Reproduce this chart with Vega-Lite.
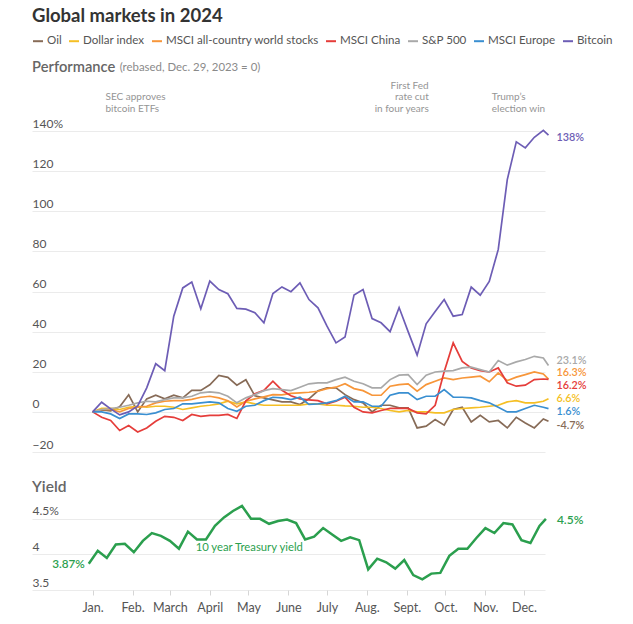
{
"$schema":"https://vega.github.io/schema/vega-lite/v6.json",
"background":"white",
"padding":{"left":32,"top":6,"right":0,"bottom":0},
"config":{"font":"Lato","view":{"stroke":null},"concat":{"spacing":28}},
"title":{"text":"Global markets in 2024","anchor":"start","fontSize":18.5,"fontWeight":"bold","color":"#333333","offset":10},
"datasets":{
"perf":[
{"d":"2024-01-01","s":"Oil","v":0},{"d":"2024-01-08","s":"Oil","v":1},{"d":"2024-01-15","s":"Oil","v":0.5},{"d":"2024-01-22","s":"Oil","v":2.5},{"d":"2024-01-29","s":"Oil","v":8.5},{"d":"2024-02-05","s":"Oil","v":0},{"d":"2024-02-12","s":"Oil","v":6.5},{"d":"2024-02-19","s":"Oil","v":8.3},{"d":"2024-02-26","s":"Oil","v":6.5},{"d":"2024-03-04","s":"Oil","v":8.3},{"d":"2024-03-11","s":"Oil","v":7},{"d":"2024-03-18","s":"Oil","v":10.7},{"d":"2024-03-25","s":"Oil","v":10.7},{"d":"2024-04-01","s":"Oil","v":13.5},{"d":"2024-04-08","s":"Oil","v":18.2},{"d":"2024-04-15","s":"Oil","v":17.2},{"d":"2024-04-22","s":"Oil","v":13.3},{"d":"2024-04-29","s":"Oil","v":16},{"d":"2024-05-06","s":"Oil","v":8},{"d":"2024-05-13","s":"Oil","v":7},{"d":"2024-05-20","s":"Oil","v":6},{"d":"2024-05-27","s":"Oil","v":5},{"d":"2024-06-03","s":"Oil","v":5},{"d":"2024-06-10","s":"Oil","v":3.7},{"d":"2024-06-17","s":"Oil","v":6.5},{"d":"2024-06-24","s":"Oil","v":10.5},{"d":"2024-07-01","s":"Oil","v":12},{"d":"2024-07-08","s":"Oil","v":12},{"d":"2024-07-15","s":"Oil","v":8.6},{"d":"2024-07-22","s":"Oil","v":6.1},{"d":"2024-07-29","s":"Oil","v":4.5},{"d":"2024-08-05","s":"Oil","v":0},{"d":"2024-08-12","s":"Oil","v":3.3},{"d":"2024-08-19","s":"Oil","v":3.3},{"d":"2024-08-26","s":"Oil","v":2},{"d":"2024-09-02","s":"Oil","v":2},{"d":"2024-09-09","s":"Oil","v":-8},{"d":"2024-09-16","s":"Oil","v":-7.1},{"d":"2024-09-23","s":"Oil","v":-3.8},{"d":"2024-09-30","s":"Oil","v":-6.6},{"d":"2024-10-07","s":"Oil","v":1.2},{"d":"2024-10-14","s":"Oil","v":2.3},{"d":"2024-10-21","s":"Oil","v":-5},{"d":"2024-10-28","s":"Oil","v":-1.7},{"d":"2024-11-04","s":"Oil","v":-5},{"d":"2024-11-11","s":"Oil","v":-4.3},{"d":"2024-11-18","s":"Oil","v":-8},{"d":"2024-11-25","s":"Oil","v":-2.7},{"d":"2024-12-02","s":"Oil","v":-5.5},{"d":"2024-12-09","s":"Oil","v":-8},{"d":"2024-12-16","s":"Oil","v":-3.5},{"d":"2024-12-20","s":"Oil","v":-4.7},
{"d":"2024-01-01","s":"Dollar index","v":0},{"d":"2024-01-08","s":"Dollar index","v":1.7},{"d":"2024-01-15","s":"Dollar index","v":1.7},{"d":"2024-01-22","s":"Dollar index","v":1.2},{"d":"2024-01-29","s":"Dollar index","v":2.3},{"d":"2024-02-05","s":"Dollar index","v":2.8},{"d":"2024-02-12","s":"Dollar index","v":2.3},{"d":"2024-02-19","s":"Dollar index","v":2.8},{"d":"2024-02-26","s":"Dollar index","v":2.8},{"d":"2024-03-04","s":"Dollar index","v":2.3},{"d":"2024-03-11","s":"Dollar index","v":1.2},{"d":"2024-03-18","s":"Dollar index","v":2},{"d":"2024-03-25","s":"Dollar index","v":2.8},{"d":"2024-04-01","s":"Dollar index","v":3.3},{"d":"2024-04-08","s":"Dollar index","v":4},{"d":"2024-04-15","s":"Dollar index","v":5.3},{"d":"2024-04-22","s":"Dollar index","v":4},{"d":"2024-04-29","s":"Dollar index","v":5},{"d":"2024-05-06","s":"Dollar index","v":4},{"d":"2024-05-13","s":"Dollar index","v":3.3},{"d":"2024-05-20","s":"Dollar index","v":3.3},{"d":"2024-05-27","s":"Dollar index","v":3.3},{"d":"2024-06-03","s":"Dollar index","v":3.3},{"d":"2024-06-10","s":"Dollar index","v":3.3},{"d":"2024-06-17","s":"Dollar index","v":4},{"d":"2024-06-24","s":"Dollar index","v":4},{"d":"2024-07-01","s":"Dollar index","v":3.3},{"d":"2024-07-08","s":"Dollar index","v":3.3},{"d":"2024-07-15","s":"Dollar index","v":3},{"d":"2024-07-22","s":"Dollar index","v":2.8},{"d":"2024-07-29","s":"Dollar index","v":2.3},{"d":"2024-08-05","s":"Dollar index","v":2.3},{"d":"2024-08-12","s":"Dollar index","v":1.7},{"d":"2024-08-19","s":"Dollar index","v":0.7},{"d":"2024-08-26","s":"Dollar index","v":0},{"d":"2024-09-02","s":"Dollar index","v":0.7},{"d":"2024-09-09","s":"Dollar index","v":0},{"d":"2024-09-16","s":"Dollar index","v":0},{"d":"2024-09-23","s":"Dollar index","v":-0.5},{"d":"2024-09-30","s":"Dollar index","v":-0.5},{"d":"2024-10-07","s":"Dollar index","v":1.2},{"d":"2024-10-14","s":"Dollar index","v":1.7},{"d":"2024-10-21","s":"Dollar index","v":2},{"d":"2024-10-28","s":"Dollar index","v":2.3},{"d":"2024-11-04","s":"Dollar index","v":2.8},{"d":"2024-11-11","s":"Dollar index","v":3.3},{"d":"2024-11-18","s":"Dollar index","v":5},{"d":"2024-11-25","s":"Dollar index","v":5.6},{"d":"2024-12-02","s":"Dollar index","v":4.5},{"d":"2024-12-09","s":"Dollar index","v":4.5},{"d":"2024-12-16","s":"Dollar index","v":5.3},{"d":"2024-12-20","s":"Dollar index","v":6.6},
{"d":"2024-01-01","s":"MSCI all-country world stocks","v":0},{"d":"2024-01-08","s":"MSCI all-country world stocks","v":1.2},{"d":"2024-01-15","s":"MSCI all-country world stocks","v":1.2},{"d":"2024-01-22","s":"MSCI all-country world stocks","v":0},{"d":"2024-01-29","s":"MSCI all-country world stocks","v":1.7},{"d":"2024-02-05","s":"MSCI all-country world stocks","v":2.3},{"d":"2024-02-12","s":"MSCI all-country world stocks","v":2.8},{"d":"2024-02-19","s":"MSCI all-country world stocks","v":4.5},{"d":"2024-02-26","s":"MSCI all-country world stocks","v":5.3},{"d":"2024-03-04","s":"MSCI all-country world stocks","v":5.6},{"d":"2024-03-11","s":"MSCI all-country world stocks","v":5.6},{"d":"2024-03-18","s":"MSCI all-country world stocks","v":6.2},{"d":"2024-03-25","s":"MSCI all-country world stocks","v":7.3},{"d":"2024-04-01","s":"MSCI all-country world stocks","v":7.8},{"d":"2024-04-08","s":"MSCI all-country world stocks","v":7},{"d":"2024-04-15","s":"MSCI all-country world stocks","v":5.6},{"d":"2024-04-22","s":"MSCI all-country world stocks","v":2.5},{"d":"2024-04-29","s":"MSCI all-country world stocks","v":5.3},{"d":"2024-05-06","s":"MSCI all-country world stocks","v":6.5},{"d":"2024-05-13","s":"MSCI all-country world stocks","v":7.5},{"d":"2024-05-20","s":"MSCI all-country world stocks","v":8.6},{"d":"2024-05-27","s":"MSCI all-country world stocks","v":8.5},{"d":"2024-06-03","s":"MSCI all-country world stocks","v":9.2},{"d":"2024-06-10","s":"MSCI all-country world stocks","v":9.5},{"d":"2024-06-17","s":"MSCI all-country world stocks","v":9.8},{"d":"2024-06-24","s":"MSCI all-country world stocks","v":10.3},{"d":"2024-07-01","s":"MSCI all-country world stocks","v":11.6},{"d":"2024-07-08","s":"MSCI all-country world stocks","v":12.3},{"d":"2024-07-15","s":"MSCI all-country world stocks","v":14},{"d":"2024-07-22","s":"MSCI all-country world stocks","v":11.6},{"d":"2024-07-29","s":"MSCI all-country world stocks","v":10.6},{"d":"2024-08-05","s":"MSCI all-country world stocks","v":8.3},{"d":"2024-08-12","s":"MSCI all-country world stocks","v":8.3},{"d":"2024-08-19","s":"MSCI all-country world stocks","v":12.8},{"d":"2024-08-26","s":"MSCI all-country world stocks","v":13.6},{"d":"2024-09-02","s":"MSCI all-country world stocks","v":14},{"d":"2024-09-09","s":"MSCI all-country world stocks","v":10.3},{"d":"2024-09-16","s":"MSCI all-country world stocks","v":13.6},{"d":"2024-09-23","s":"MSCI all-country world stocks","v":15.3},{"d":"2024-09-30","s":"MSCI all-country world stocks","v":16.9},{"d":"2024-10-07","s":"MSCI all-country world stocks","v":16.1},{"d":"2024-10-14","s":"MSCI all-country world stocks","v":16.9},{"d":"2024-10-21","s":"MSCI all-country world stocks","v":17.3},{"d":"2024-10-28","s":"MSCI all-country world stocks","v":17.8},{"d":"2024-11-04","s":"MSCI all-country world stocks","v":15},{"d":"2024-11-11","s":"MSCI all-country world stocks","v":19.4},{"d":"2024-11-18","s":"MSCI all-country world stocks","v":15.6},{"d":"2024-11-25","s":"MSCI all-country world stocks","v":17.3},{"d":"2024-12-02","s":"MSCI all-country world stocks","v":18.6},{"d":"2024-12-09","s":"MSCI all-country world stocks","v":19.9},{"d":"2024-12-16","s":"MSCI all-country world stocks","v":18.9},{"d":"2024-12-20","s":"MSCI all-country world stocks","v":16.3},
{"d":"2024-01-01","s":"MSCI China","v":0},{"d":"2024-01-08","s":"MSCI China","v":-2.7},{"d":"2024-01-15","s":"MSCI China","v":-4.3},{"d":"2024-01-22","s":"MSCI China","v":-9.3},{"d":"2024-01-29","s":"MSCI China","v":-6.8},{"d":"2024-02-05","s":"MSCI China","v":-10},{"d":"2024-02-12","s":"MSCI China","v":-8},{"d":"2024-02-19","s":"MSCI China","v":-4.7},{"d":"2024-02-26","s":"MSCI China","v":-2.2},{"d":"2024-03-04","s":"MSCI China","v":-2.7},{"d":"2024-03-11","s":"MSCI China","v":-4.3},{"d":"2024-03-18","s":"MSCI China","v":-1.3},{"d":"2024-03-25","s":"MSCI China","v":-2.2},{"d":"2024-04-01","s":"MSCI China","v":-1.7},{"d":"2024-04-08","s":"MSCI China","v":-1.7},{"d":"2024-04-15","s":"MSCI China","v":-1.3},{"d":"2024-04-22","s":"MSCI China","v":-3.3},{"d":"2024-04-29","s":"MSCI China","v":5.5},{"d":"2024-05-06","s":"MSCI China","v":9},{"d":"2024-05-13","s":"MSCI China","v":10.7},{"d":"2024-05-20","s":"MSCI China","v":15.3},{"d":"2024-05-27","s":"MSCI China","v":10.8},{"d":"2024-06-03","s":"MSCI China","v":8},{"d":"2024-06-10","s":"MSCI China","v":6.5},{"d":"2024-06-17","s":"MSCI China","v":6},{"d":"2024-06-24","s":"MSCI China","v":5.6},{"d":"2024-07-01","s":"MSCI China","v":4},{"d":"2024-07-08","s":"MSCI China","v":5.3},{"d":"2024-07-15","s":"MSCI China","v":7.3},{"d":"2024-07-22","s":"MSCI China","v":2.3},{"d":"2024-07-29","s":"MSCI China","v":0},{"d":"2024-08-05","s":"MSCI China","v":-0.5},{"d":"2024-08-12","s":"MSCI China","v":0.7},{"d":"2024-08-19","s":"MSCI China","v":1.7},{"d":"2024-08-26","s":"MSCI China","v":1.7},{"d":"2024-09-02","s":"MSCI China","v":1.7},{"d":"2024-09-09","s":"MSCI China","v":-0.5},{"d":"2024-09-16","s":"MSCI China","v":-1},{"d":"2024-09-23","s":"MSCI China","v":3.3},{"d":"2024-09-30","s":"MSCI China","v":20},{"d":"2024-10-07","s":"MSCI China","v":34.4},{"d":"2024-10-14","s":"MSCI China","v":25.2},{"d":"2024-10-21","s":"MSCI China","v":21.9},{"d":"2024-10-28","s":"MSCI China","v":20.6},{"d":"2024-11-04","s":"MSCI China","v":19.9},{"d":"2024-11-11","s":"MSCI China","v":21.9},{"d":"2024-11-18","s":"MSCI China","v":14.5},{"d":"2024-11-25","s":"MSCI China","v":12.8},{"d":"2024-12-02","s":"MSCI China","v":13.3},{"d":"2024-12-09","s":"MSCI China","v":16.1},{"d":"2024-12-16","s":"MSCI China","v":16.4},{"d":"2024-12-20","s":"MSCI China","v":16.2},
{"d":"2024-01-01","s":"S&P 500","v":0},{"d":"2024-01-08","s":"S&P 500","v":1.2},{"d":"2024-01-15","s":"S&P 500","v":1.7},{"d":"2024-01-22","s":"S&P 500","v":2.3},{"d":"2024-01-29","s":"S&P 500","v":3.3},{"d":"2024-02-05","s":"S&P 500","v":4.5},{"d":"2024-02-12","s":"S&P 500","v":5.3},{"d":"2024-02-19","s":"S&P 500","v":5},{"d":"2024-02-26","s":"S&P 500","v":6.1},{"d":"2024-03-04","s":"S&P 500","v":7},{"d":"2024-03-11","s":"S&P 500","v":7},{"d":"2024-03-18","s":"S&P 500","v":7.8},{"d":"2024-03-25","s":"S&P 500","v":9.5},{"d":"2024-04-01","s":"S&P 500","v":10},{"d":"2024-04-08","s":"S&P 500","v":9.5},{"d":"2024-04-15","s":"S&P 500","v":7.8},{"d":"2024-04-22","s":"S&P 500","v":4.5},{"d":"2024-04-29","s":"S&P 500","v":7},{"d":"2024-05-06","s":"S&P 500","v":8.6},{"d":"2024-05-13","s":"S&P 500","v":10.6},{"d":"2024-05-20","s":"S&P 500","v":11.6},{"d":"2024-05-27","s":"S&P 500","v":11.1},{"d":"2024-06-03","s":"S&P 500","v":10.6},{"d":"2024-06-10","s":"S&P 500","v":12.3},{"d":"2024-06-17","s":"S&P 500","v":14},{"d":"2024-06-24","s":"S&P 500","v":14.5},{"d":"2024-07-01","s":"S&P 500","v":14.5},{"d":"2024-07-08","s":"S&P 500","v":16.1},{"d":"2024-07-15","s":"S&P 500","v":17.3},{"d":"2024-07-22","s":"S&P 500","v":15.3},{"d":"2024-07-29","s":"S&P 500","v":14},{"d":"2024-08-05","s":"S&P 500","v":12},{"d":"2024-08-12","s":"S&P 500","v":12},{"d":"2024-08-19","s":"S&P 500","v":16.1},{"d":"2024-08-26","s":"S&P 500","v":18.3},{"d":"2024-09-02","s":"S&P 500","v":18.6},{"d":"2024-09-09","s":"S&P 500","v":13.6},{"d":"2024-09-16","s":"S&P 500","v":18.3},{"d":"2024-09-23","s":"S&P 500","v":19.9},{"d":"2024-09-30","s":"S&P 500","v":20.3},{"d":"2024-10-07","s":"S&P 500","v":20.6},{"d":"2024-10-14","s":"S&P 500","v":21.9},{"d":"2024-10-21","s":"S&P 500","v":22.3},{"d":"2024-10-28","s":"S&P 500","v":21.1},{"d":"2024-11-04","s":"S&P 500","v":19.9},{"d":"2024-11-11","s":"S&P 500","v":25.6},{"d":"2024-11-18","s":"S&P 500","v":23.3},{"d":"2024-11-25","s":"S&P 500","v":24.9},{"d":"2024-12-02","s":"S&P 500","v":26.1},{"d":"2024-12-09","s":"S&P 500","v":27.7},{"d":"2024-12-16","s":"S&P 500","v":26.9},{"d":"2024-12-20","s":"S&P 500","v":23.1},
{"d":"2024-01-01","s":"MSCI Europe","v":0},{"d":"2024-01-08","s":"MSCI Europe","v":0},{"d":"2024-01-15","s":"MSCI Europe","v":-1},{"d":"2024-01-22","s":"MSCI Europe","v":-3.3},{"d":"2024-01-29","s":"MSCI Europe","v":-1},{"d":"2024-02-05","s":"MSCI Europe","v":-1},{"d":"2024-02-12","s":"MSCI Europe","v":-1.3},{"d":"2024-02-19","s":"MSCI Europe","v":-0.5},{"d":"2024-02-26","s":"MSCI Europe","v":1.2},{"d":"2024-03-04","s":"MSCI Europe","v":1.7},{"d":"2024-03-11","s":"MSCI Europe","v":4},{"d":"2024-03-18","s":"MSCI Europe","v":4},{"d":"2024-03-25","s":"MSCI Europe","v":4.5},{"d":"2024-04-01","s":"MSCI Europe","v":5},{"d":"2024-04-08","s":"MSCI Europe","v":4.5},{"d":"2024-04-15","s":"MSCI Europe","v":1.7},{"d":"2024-04-22","s":"MSCI Europe","v":0.3},{"d":"2024-04-29","s":"MSCI Europe","v":2.8},{"d":"2024-05-06","s":"MSCI Europe","v":3.3},{"d":"2024-05-13","s":"MSCI Europe","v":5.6},{"d":"2024-05-20","s":"MSCI Europe","v":7.3},{"d":"2024-05-27","s":"MSCI Europe","v":7},{"d":"2024-06-03","s":"MSCI Europe","v":6.1},{"d":"2024-06-10","s":"MSCI Europe","v":7.3},{"d":"2024-06-17","s":"MSCI Europe","v":3.7},{"d":"2024-06-24","s":"MSCI Europe","v":4},{"d":"2024-07-01","s":"MSCI Europe","v":4.5},{"d":"2024-07-08","s":"MSCI Europe","v":5.6},{"d":"2024-07-15","s":"MSCI Europe","v":7.8},{"d":"2024-07-22","s":"MSCI Europe","v":5},{"d":"2024-07-29","s":"MSCI Europe","v":5},{"d":"2024-08-05","s":"MSCI Europe","v":2.8},{"d":"2024-08-12","s":"MSCI Europe","v":2.8},{"d":"2024-08-19","s":"MSCI Europe","v":8.3},{"d":"2024-08-26","s":"MSCI Europe","v":9.5},{"d":"2024-09-02","s":"MSCI Europe","v":9.5},{"d":"2024-09-09","s":"MSCI Europe","v":6.1},{"d":"2024-09-16","s":"MSCI Europe","v":7.8},{"d":"2024-09-23","s":"MSCI Europe","v":7.8},{"d":"2024-09-30","s":"MSCI Europe","v":11.1},{"d":"2024-10-07","s":"MSCI Europe","v":7.3},{"d":"2024-10-14","s":"MSCI Europe","v":7.3},{"d":"2024-10-21","s":"MSCI Europe","v":7},{"d":"2024-10-28","s":"MSCI Europe","v":5.6},{"d":"2024-11-04","s":"MSCI Europe","v":4.5},{"d":"2024-11-11","s":"MSCI Europe","v":2.3},{"d":"2024-11-18","s":"MSCI Europe","v":0},{"d":"2024-11-25","s":"MSCI Europe","v":0},{"d":"2024-12-02","s":"MSCI Europe","v":1.7},{"d":"2024-12-09","s":"MSCI Europe","v":3.3},{"d":"2024-12-16","s":"MSCI Europe","v":2.3},{"d":"2024-12-20","s":"MSCI Europe","v":1.6},
{"d":"2024-01-01","s":"Bitcoin","v":0},{"d":"2024-01-08","s":"Bitcoin","v":4.8},{"d":"2024-01-15","s":"Bitcoin","v":1.5},{"d":"2024-01-22","s":"Bitcoin","v":-1.5},{"d":"2024-01-29","s":"Bitcoin","v":0},{"d":"2024-02-05","s":"Bitcoin","v":3},{"d":"2024-02-12","s":"Bitcoin","v":12},{"d":"2024-02-19","s":"Bitcoin","v":24},{"d":"2024-02-26","s":"Bitcoin","v":20.5},{"d":"2024-03-04","s":"Bitcoin","v":47.7},{"d":"2024-03-11","s":"Bitcoin","v":61.8},{"d":"2024-03-18","s":"Bitcoin","v":64.7},{"d":"2024-03-25","s":"Bitcoin","v":51.4},{"d":"2024-04-01","s":"Bitcoin","v":65.2},{"d":"2024-04-08","s":"Bitcoin","v":61},{"d":"2024-04-15","s":"Bitcoin","v":58.9},{"d":"2024-04-22","s":"Bitcoin","v":51.6},{"d":"2024-04-29","s":"Bitcoin","v":51.2},{"d":"2024-05-06","s":"Bitcoin","v":49.4},{"d":"2024-05-13","s":"Bitcoin","v":44.4},{"d":"2024-05-20","s":"Bitcoin","v":59},{"d":"2024-05-27","s":"Bitcoin","v":62.3},{"d":"2024-06-03","s":"Bitcoin","v":59.9},{"d":"2024-06-10","s":"Bitcoin","v":64.3},{"d":"2024-06-17","s":"Bitcoin","v":56},{"d":"2024-06-24","s":"Bitcoin","v":51.9},{"d":"2024-07-01","s":"Bitcoin","v":42.7},{"d":"2024-07-08","s":"Bitcoin","v":34.4},{"d":"2024-07-15","s":"Bitcoin","v":37.3},{"d":"2024-07-22","s":"Bitcoin","v":58.3},{"d":"2024-07-29","s":"Bitcoin","v":61},{"d":"2024-08-05","s":"Bitcoin","v":46.5},{"d":"2024-08-12","s":"Bitcoin","v":44.4},{"d":"2024-08-19","s":"Bitcoin","v":40},{"d":"2024-08-26","s":"Bitcoin","v":52},{"d":"2024-09-02","s":"Bitcoin","v":40},{"d":"2024-09-09","s":"Bitcoin","v":28.3},{"d":"2024-09-16","s":"Bitcoin","v":43.9},{"d":"2024-09-23","s":"Bitcoin","v":50},{"d":"2024-09-30","s":"Bitcoin","v":56},{"d":"2024-10-07","s":"Bitcoin","v":47.7},{"d":"2024-10-14","s":"Bitcoin","v":48.5},{"d":"2024-10-21","s":"Bitcoin","v":62.2},{"d":"2024-10-28","s":"Bitcoin","v":58.2},{"d":"2024-11-04","s":"Bitcoin","v":65},{"d":"2024-11-11","s":"Bitcoin","v":81},{"d":"2024-11-18","s":"Bitcoin","v":115.8},{"d":"2024-11-25","s":"Bitcoin","v":134.6},{"d":"2024-12-02","s":"Bitcoin","v":131.6},{"d":"2024-12-09","s":"Bitcoin","v":136.9},{"d":"2024-12-16","s":"Bitcoin","v":140.4},{"d":"2024-12-20","s":"Bitcoin","v":138}
],
"ends":[
{"d":"2024-12-20","s":"Bitcoin","ly":136.6,"t":"138%"},
{"d":"2024-12-20","s":"S&P 500","ly":25.6,"t":"23.1%"},
{"d":"2024-12-20","s":"MSCI all-country world stocks","ly":19.5,"t":"16.3%"},
{"d":"2024-12-20","s":"MSCI China","ly":13.1,"t":"16.2%"},
{"d":"2024-12-20","s":"Dollar index","ly":6.2,"t":"6.6%"},
{"d":"2024-12-20","s":"MSCI Europe","ly":0.1,"t":"1.6%"},
{"d":"2024-12-20","s":"Oil","ly":-7.1,"t":"-4.7%"}
],
"rules":[{"d":"2024-01-11"},{"d":"2024-09-18"},{"d":"2024-11-06"}],
"evtext":[
{"e":"sec","d":"2024-01-11","ly":156.9,"t":"SEC approves"},
{"e":"sec","d":"2024-01-11","ly":151.0,"t":"bitcoin ETFs"},
{"e":"fed","d":"2024-09-18","ly":162.6,"t":"First Fed"},
{"e":"fed","d":"2024-09-18","ly":156.9,"t":"rate cut"},
{"e":"fed","d":"2024-09-18","ly":151.0,"t":"in four years"},
{"e":"trump","d":"2024-11-06","ly":156.9,"t":"Trump’s"},
{"e":"trump","d":"2024-11-06","ly":151.0,"t":"election win"}
],
"yield":[
{"d":"2023-12-29","v":3.87},{"d":"2024-01-05","v":4.05},{"d":"2024-01-12","v":3.95},{"d":"2024-01-19","v":4.14},{"d":"2024-01-26","v":4.15},{"d":"2024-02-02","v":4.03},{"d":"2024-02-09","v":4.19},{"d":"2024-02-16","v":4.3},{"d":"2024-02-23","v":4.26},{"d":"2024-03-01","v":4.19},{"d":"2024-03-08","v":4.08},{"d":"2024-03-15","v":4.32},{"d":"2024-03-22","v":4.21},{"d":"2024-03-29","v":4.21},{"d":"2024-04-05","v":4.4},{"d":"2024-04-12","v":4.52},{"d":"2024-04-19","v":4.61},{"d":"2024-04-26","v":4.68},{"d":"2024-05-03","v":4.5},{"d":"2024-05-10","v":4.5},{"d":"2024-05-17","v":4.43},{"d":"2024-05-24","v":4.47},{"d":"2024-05-31","v":4.49},{"d":"2024-06-07","v":4.44},{"d":"2024-06-14","v":4.21},{"d":"2024-06-21","v":4.25},{"d":"2024-06-28","v":4.37},{"d":"2024-07-05","v":4.28},{"d":"2024-07-12","v":4.19},{"d":"2024-07-19","v":4.24},{"d":"2024-07-26","v":4.2},{"d":"2024-08-02","v":3.79},{"d":"2024-08-09","v":3.94},{"d":"2024-08-16","v":3.89},{"d":"2024-08-23","v":3.8},{"d":"2024-08-30","v":3.92},{"d":"2024-09-06","v":3.71},{"d":"2024-09-13","v":3.65},{"d":"2024-09-20","v":3.73},{"d":"2024-09-27","v":3.74},{"d":"2024-10-04","v":3.98},{"d":"2024-10-11","v":4.08},{"d":"2024-10-18","v":4.08},{"d":"2024-10-25","v":4.23},{"d":"2024-11-01","v":4.37},{"d":"2024-11-08","v":4.3},{"d":"2024-11-15","v":4.44},{"d":"2024-11-22","v":4.42},{"d":"2024-11-29","v":4.2},{"d":"2024-12-06","v":4.16},{"d":"2024-12-13","v":4.4},{"d":"2024-12-18","v":4.5}
]
},
"vconcat":[
{
"width":513,"height":341,
"encoding":{
 "x":{"field":"d","type":"temporal","scale":{"type":"utc","nice":false,"domain":[{"year":2023,"month":11,"date":14,"hours":22,"utc":true},{"year":2024,"month":12,"date":17,"hours":7,"utc":true}]},"axis":null},
 "y":{"field":"v","type":"quantitative","scale":{"domain":[-20,150],"nice":false,"zero":false},"axis":{"values":[-20,0,20,40,60,80,100,120,140],"grid":true,"gridColor":"#ebebeb","gridWidth":1,"domain":false,"ticks":false,"labelAlign":"left","labelBaseline":"alphabetic","labelPadding":0,"labelOffset":-4,"labelFontSize":12,"labelColor":"#555555","labelFlush":false,"labelOverlap":false,"title":null,"labelExpr":"datum.value == 140 ? '140%' : datum.label"}}
},
"layer":[
 {"data":{"name":"rules"},"mark":{"type":"rule","strokeDash":[3,3],"color":"#cfcfcf","strokeWidth":1},"encoding":{"y":{"datum":145},"y2":{"datum":-20}}},
 {"data":{"name":"perf"},"mark":{"type":"line","strokeWidth":1.7},"encoding":{"color":{"field":"s","type":"nominal","scale":{"domain":["Oil","Dollar index","MSCI all-country world stocks","MSCI China","S&P 500","MSCI Europe","Bitcoin"],"range":["#876b57","#f5bf25","#f7963a","#e53d3a","#a9a9a9","#3a8fd1","#6d5db5"]},"legend":{"orient":"top","direction":"horizontal","title":null,"symbolType":"stroke","symbolStrokeWidth":2,"symbolSize":100,"labelFontSize":11.6,"labelColor":"#555555","columnPadding":3,"labelOffset":3,"padding":0,"labelLimit":300,"offset":12}}}},
 {"data":{"name":"ends"},"mark":{"type":"text","align":"left","baseline":"middle","dx":8,"fontSize":10.8,"fontWeight":600},"encoding":{"y":{"field":"ly","type":"quantitative"},"text":{"field":"t"},"color":{"field":"s","type":"nominal","legend":null}}},
 {"data":{"name":"evtext"},"transform":[{"filter":"datum.e != 'fed'"}],"mark":{"type":"text","align":"left","baseline":"middle","fontSize":10,"color":"#959595"},"encoding":{"y":{"field":"ly","type":"quantitative"},"text":{"field":"t"}}},
 {"data":{"name":"evtext"},"transform":[{"filter":"datum.e == 'fed'"}],"mark":{"type":"text","align":"right","baseline":"middle","fontSize":10,"color":"#959595"},"encoding":{"y":{"field":"ly","type":"quantitative"},"text":{"field":"t"}}},
 {"data":{"values":[{"d":"2023-11-15","ly":171.5,"t":"Performance"}]},"mark":{"type":"text","align":"left","baseline":"middle","fontSize":14.7,"fontWeight":600,"color":"#666666"},"encoding":{"y":{"field":"ly","type":"quantitative"},"text":{"field":"t"}}},
 {"data":{"values":[{"d":"2024-01-22","ly":171.3,"t":"(rebased, Dec. 29, 2023 = 0)"}]},"mark":{"type":"text","align":"left","baseline":"middle","fontSize":11.4,"color":"#8a8a8a"},"encoding":{"y":{"field":"ly","type":"quantitative"},"text":{"field":"t"}}}
]
},
{
"width":513,"height":89,
"title":{"text":"Yield","anchor":"start","fontSize":15.5,"fontWeight":600,"color":"#666666","offset":5},
"data":{"name":"yield"},
"encoding":{
 "x":{"field":"d","type":"temporal","scale":{"type":"utc","nice":false,"domain":[{"year":2023,"month":11,"date":14,"hours":22,"utc":true},{"year":2024,"month":12,"date":17,"hours":7,"utc":true}]},"axis":{"values":[{"year":2024,"month":1,"date":1,"utc":true},{"year":2024,"month":2,"date":1,"utc":true},{"year":2024,"month":3,"date":1,"utc":true},{"year":2024,"month":4,"date":1,"utc":true},{"year":2024,"month":5,"date":1,"utc":true},{"year":2024,"month":6,"date":1,"utc":true},{"year":2024,"month":7,"date":1,"utc":true},{"year":2024,"month":8,"date":1,"utc":true},{"year":2024,"month":9,"date":1,"utc":true},{"year":2024,"month":10,"date":1,"utc":true},{"year":2024,"month":11,"date":1,"utc":true},{"year":2024,"month":12,"date":1,"utc":true}],"labelExpr":"['Jan.','Feb.','March','April','May','June','July','Aug.','Sept.','Oct.','Nov.','Dec.'][utcmonth(datum.value)]","grid":false,"domain":false,"ticks":true,"tickSize":5,"tickColor":"#d6d6d6","labelFontSize":12.5,"labelColor":"#555555","labelPadding":6,"labelFlush":false,"labelOverlap":false,"title":null}},
 "y":{"field":"v","type":"quantitative","scale":{"domain":[3.5,4.75],"nice":false,"zero":false},"axis":{"values":[3.5,4,4.5],"grid":true,"gridColor":"#ebebeb","domain":false,"ticks":false,"labelAlign":"left","labelBaseline":"alphabetic","labelPadding":0,"labelOffset":-4,"labelFontSize":12,"labelColor":"#555555","labelFlush":false,"labelOverlap":false,"title":null,"labelExpr":"datum.value == 4.5 ? '4.5%' : format(datum.value, '~g')"}}
},
"layer":[
 {"mark":{"type":"line","strokeWidth":2.5,"color":"#2b9f4e"}},
 {"data":{"values":[{"d":"2023-12-29","ly":3.87,"t":"3.87%"}]},"mark":{"type":"text","align":"right","baseline":"middle","dx":-4,"fontSize":11.7,"fontWeight":600,"color":"#2b9f4e"},"encoding":{"y":{"field":"ly","type":"quantitative"},"text":{"field":"t"}}},
 {"data":{"values":[{"d":"2024-12-18","ly":4.48,"t":"4.5%"}]},"mark":{"type":"text","align":"left","baseline":"middle","dx":11,"fontSize":12,"fontWeight":600,"color":"#2b9f4e"},"encoding":{"y":{"field":"ly","type":"quantitative"},"text":{"field":"t"}}},
 {"data":{"values":[{"d":"2024-03-21","ly":4.093,"t":"10 year Treasury yield"}]},"mark":{"type":"text","align":"left","baseline":"middle","fontSize":11.3,"color":"#2b9f4e"},"encoding":{"y":{"field":"ly","type":"quantitative"},"text":{"field":"t"}}}
]
}
]
}
